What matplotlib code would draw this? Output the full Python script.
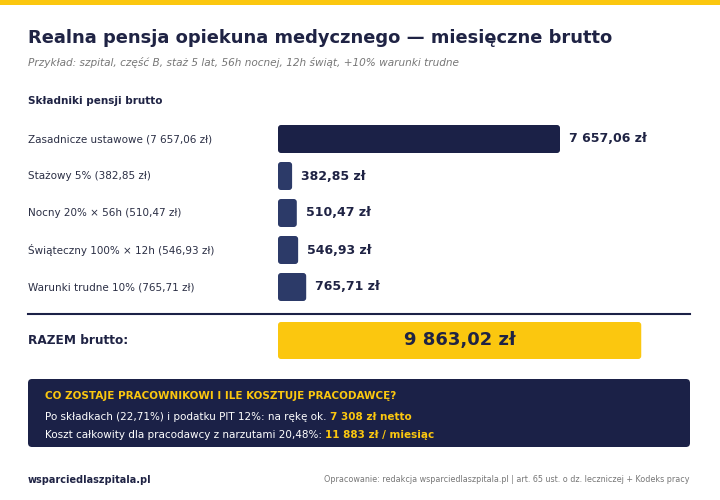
import matplotlib.pyplot as plt
from matplotlib.patches import FancyBboxPatch, Rectangle
from matplotlib import transforms

# -----------------------------
# DATA
# -----------------------------
labels = [
    "Zasadnicze ustawowe (7 657,06 zł)",
    "Stażowy 5% (382,85 zł)",
    "Nocny 20% × 56h (510,47 zł)",
    "Świąteczny 100% × 12h (546,93 zł)",
    "Warunki trudne 10% (765,71 zł)",
]
values = [7657.06, 382.85, 510.47, 546.93, 765.71]
value_texts = ["7 657,06 zł", "382,85 zł", "510,47 zł", "546,93 zł", "765,71 zł"]
total = 9863.02
total_text = "9 863,02 zł"

NAVY = "#1b2147"
BAR2 = "#2c3a68"
YELLOW = "#fbc70f"
TEXT = "#1f2344"
LABEL = "#2b2f45"
GREY = "#777777"

plt.rcParams['font.family'] = ['DejaVu Sans']

fig = plt.figure(figsize=(7.2, 5.0), dpi=100)
fig.patch.set_facecolor("white")

# background layer in pixel coordinates
bg = fig.add_axes([0, 0, 1, 1])
bg.set_xlim(0, 720)
bg.set_ylim(500, 0)
bg.axis("off")
bg.add_patch(Rectangle((0, 0), 720, 4.5, color=YELLOW, lw=0))
bg.plot([28, 690], [314, 314], color=NAVY, lw=1.5)
bg.add_patch(FancyBboxPatch((28, 379), 662, 68, boxstyle="round,pad=0,rounding_size=4",
                            fc=NAVY, ec="none"))

# header texts
fig.text(28 / 720, 1 - 38 / 500, "Realna pensja opiekuna medycznego — miesięczne brutto",
         fontsize=12.9, fontweight="bold", color=TEXT, va="center")
fig.text(28 / 720, 1 - 62 / 500,
         "Przykład: szpital, część B, staż 5 lat, 56h nocnej, 12h świąt, +10% warunki trudne",
         fontsize=7.6, style="italic", color=GREY, va="center")
fig.text(28 / 720, 1 - 101 / 500, "Składniki pensji brutto",
         fontsize=7.5, fontweight="bold", color=TEXT, va="center")

# -----------------------------
# BARS
# -----------------------------
# axes from x=278 px to 690 px, rows every 37 px starting at y=139 px
ax = fig.add_axes([278 / 720, 1 - 365 / 500, 412 / 720, 250 / 500])
ax.patch.set_alpha(0)
ax.axis("off")
px_per_unit = 282 / 7657.06
ax.set_xlim(0, 412 / px_per_unit)
ax.set_ylim(226 / 37, -24 / 37)

rows = list(range(len(values)))
total_row = len(values) - 1 + 53.5 / 37

rx = 3 / px_per_unit
ry = 3 / 37
bars = ax.barh(rows, values, height=28 / 37)
for i, b in enumerate(bars):
    b.set_visible(False)
    ax.add_patch(FancyBboxPatch((b.get_x(), b.get_y()), b.get_width(), b.get_height(),
                                boxstyle=f"round,pad=0,rounding_size={rx}",
                                mutation_aspect=ry / rx,
                                fc=NAVY if i == 0 else BAR2, ec="none"))
    ax.annotate(value_texts[i], xy=(b.get_width(), rows[i]), xytext=(6.3, 0),
                textcoords="offset points", va="center", ha="left",
                fontsize=9, fontweight="bold", color=TEXT)

tb = ax.barh([total_row], [total], height=37 / 37)[0]
tb.set_visible(False)
ax.add_patch(FancyBboxPatch((tb.get_x(), tb.get_y()), tb.get_width(), tb.get_height(),
                            boxstyle=f"round,pad=0,rounding_size={rx}",
                            mutation_aspect=ry / rx, fc=YELLOW, ec="none"))
ax.text(total / 2, total_row, total_text, ha="center", va="center",
        fontsize=13, fontweight="bold", color=TEXT)

# category labels at x=28 px
trans = transforms.blended_transform_factory(fig.transFigure, ax.transData)
for i, lab in enumerate(labels):
    ax.text(28 / 720, rows[i], lab, transform=trans, ha="left", va="center",
            fontsize=7.5, color=LABEL)
ax.text(28 / 720, total_row, "RAZEM brutto:", transform=trans, ha="left", va="center",
        fontsize=8.75, fontweight="bold", color=TEXT)

# -----------------------------
# SUMMARY BOX
# -----------------------------
fig.text(45 / 720, 1 - 396 / 500, "CO ZOSTAJE PRACOWNIKOWI I ILE KOSZTUJE PRACODAWCĘ?",
         fontsize=7.5, fontweight="bold", color=YELLOW, va="center")


def two_part(y, first, second):
    t = fig.text(45 / 720, 1 - y / 500, first, fontsize=7.5, color="white", va="center")
    ax.annotate(second, xy=(1, 0), xycoords=t, xytext=(2.5, 0), textcoords="offset points",
                va="bottom", ha="left", fontsize=7.5, fontweight="bold", color=YELLOW,
                annotation_clip=False)


two_part(417, "Po składkach (22,71%) i podatku PIT 12%: na rękę ok.", "7 308 zł netto")
two_part(435, "Koszt całkowity dla pracodawcy z narzutami 20,48%:", "11 883 zł / miesiąc")

# footer
fig.text(28 / 720, 1 - 480 / 500, "wsparciedlaszpitala.pl", fontsize=7,
         fontweight="bold", color=TEXT, va="center")
fig.text(690 / 720, 1 - 480 / 500,
         "Opracowanie: redakcja wsparciedlaszpitala.pl | art. 65 ust. o dz. leczniczej + Kodeks pracy",
         fontsize=5.8, color=GREY, va="center", ha="right")

fig.savefig("out.png", dpi=100, facecolor="white")
